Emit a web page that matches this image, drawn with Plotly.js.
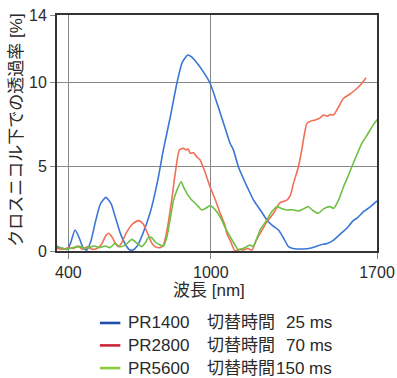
<!DOCTYPE html>
<html>
<head>
<meta charset="utf-8">
<script src="https://cdn.plot.ly/plotly-3.0.1.min.js"></script>
<style>html,body{margin:0;padding:0;background:#fff;}</style>
</head>
<body>
<div id="chart" style="width:397px;height:378px;"></div>
<script>
// PR1400 (blue)
const blueX = [352,380,395,410,428,445,462,477,495,515,535,558,580,600,620,640,655,670,690,710,744,775,800,830,857,880,903,920,945,970,997,1030,1060,1081,1095,1116,1150,1180,1210,1236,1260,1285,1305,1327,1345,1362,1390,1418,1440,1461,1490,1517,1545,1573,1600,1620,1643,1670,1700];
const blueY = [0.22,0.15,0.1,0.5,1.25,0.8,0.2,0.05,0.6,1.8,2.8,3.18,2.8,1.9,1.0,0.4,0.1,0.05,0.3,0.9,2.25,4.1,6.0,8.0,9.95,11.2,11.63,11.5,11.1,10.6,9.95,8.6,7.3,6.39,6.0,5.0,3.9,3.02,2.4,1.84,1.5,1.25,0.8,0.26,0.15,0.12,0.12,0.16,0.25,0.36,0.45,0.65,1.0,1.35,1.8,2.0,2.33,2.6,2.97];
// PR2800 (red)
const redX = [352,380,400,420,440,460,480,500,520,540,555,569,585,600,611,625,645,670,695,715,735,750,765,786,800,815,835,850,868,885,895,905,913,927,940,955,975,997,1020,1039,1060,1067,1081,1102,1120,1137,1155,1173,1190,1208,1235,1264,1292,1320,1335,1348,1369,1383,1395,1405,1420,1440,1460,1475,1490,1505,1517,1540,1559,1585,1608,1630,1654];
const redY = [0.15,0.1,0.2,0.15,0.3,0.1,0.25,0.1,0.15,0.4,0.85,1.05,0.8,0.4,0.26,0.5,1.1,1.6,1.8,1.6,1.0,0.5,0.26,0.2,0.35,1.2,3.0,4.6,6.0,6.09,6.0,6.05,5.8,5.83,5.6,5.4,4.7,3.8,3.0,2.25,1.5,1.05,0.65,0.0,0.1,0.06,0.15,0.06,0.6,1.05,1.7,2.24,2.87,3.02,3.3,4.0,5.0,6.0,7.0,7.57,7.7,7.77,7.9,8.07,8.0,8.1,8.07,8.6,9.06,9.3,9.55,9.85,10.28];
// PR5600 (green)
const greenX = [352,375,395,420,449,470,485,510,530,555,575,597,615,640,667,690,709,725,737,750,765,786,800,815,830,843,860,875,885,899,915,934,950,962,980,997,1015,1039,1060,1081,1100,1116,1135,1152,1165,1178,1190,1208,1236,1255,1278,1300,1320,1345,1369,1390,1411,1430,1453,1475,1503,1517,1538,1559,1580,1594,1615,1636,1655,1671,1690,1709];
const greenY = [0.3,0.15,0.12,0.2,0.26,0.15,0.2,0.3,0.2,0.3,0.2,0.46,0.26,0.35,0.69,0.45,0.26,0.5,0.81,0.8,0.55,0.36,0.3,0.85,2.0,3.02,3.7,4.11,3.8,3.42,3.1,2.83,2.6,2.43,2.55,2.69,2.5,2.03,1.4,0.85,0.4,0.06,0.15,0.26,0.36,0.26,0.6,1.25,1.84,2.3,2.63,2.5,2.43,2.45,2.37,2.5,2.63,2.4,2.24,2.5,2.63,2.53,3.02,3.81,4.5,5.0,5.7,6.39,6.8,7.18,7.6,7.93];

const seriesNames = ['PR1400','PR2800','PR5600'];
const switchLabel = '切替時間';
const switchTimes = ['25 ms','70 ms','150 ms'];
const xTicks = [400,1000,1700];
const yTicks = [0,5,10,14];
const xTitle = '波長 [nm]';
const yTitle = 'クロスニコル下での透過率 [%]';

const lineColors = ['#3a76d6','#f26e55','#6dc043'];
const legendColors = ['#1e50a8','#c8283a','#8ccc3c'];
const FONT = 'Liberation Sans, Arial, Noto Sans CJK JP, sans-serif';
const TXT = '#2a2a2a';

const xs = [blueX, redX, greenX];
const ys = [blueY, redY, greenY];
const traces = xs.map((x,i)=>({
  x: x, y: ys[i], type:'scatter', mode:'lines', name: seriesNames[i],
  line:{color: lineColors[i], width:1.6, shape:'spline', smoothing:0.6},
  showlegend:false, hoverinfo:'skip'
}));

const rowY = [-0.305,-0.400,-0.496];
const shapes = [];
const annotations = [];
rowY.forEach((yy,i)=>{
  shapes.push({type:'line', xref:'paper', yref:'paper', x0:0.134, x1:0.198, y0:yy, y1:yy,
    line:{color:legendColors[i], width:2.6}});
  annotations.push({xref:'paper', yref:'paper', x:0.217, y:yy, xanchor:'left', yanchor:'middle',
    text:seriesNames[i], showarrow:false, font:{family:FONT, size:17, color:TXT}});
  annotations.push({xref:'paper', yref:'paper', x:0.4625, y:yy, xanchor:'left', yanchor:'middle',
    text:switchLabel, showarrow:false, font:{family:FONT, size:17, color:TXT}});
  annotations.push({xref:'paper', yref:'paper', x:0.865, y:yy, xanchor:'right', yanchor:'middle',
    text:switchTimes[i], showarrow:false, font:{family:FONT, size:17, color:TXT}});
});
// axis titles placed as in the reference
annotations.push({xref:'paper', yref:'paper', x:0.476, y:-0.168, xanchor:'center', yanchor:'middle',
  text:xTitle, showarrow:false, font:{family:FONT, size:17, color:TXT}});
annotations.push({xref:'paper', yref:'paper', x:-0.125, y:0.51, xanchor:'center', yanchor:'middle',
  textangle:-90, text:yTitle, showarrow:false, font:{family:FONT, size:17, color:TXT}});

const layout = {
  width:397, height:378,
  margin:{l:57, r:20, t:15, b:127},
  paper_bgcolor:'#fff', plot_bgcolor:'#fff',
  font:{family:FONT, color:TXT},
  xaxis:{
    range:[352,1700], tickvals:xTicks, ticktext:xTicks.map(String),
    showgrid:true, gridcolor:'#888', gridwidth:1, zeroline:false,
    showline:true, linecolor:'#333', linewidth:2, mirror:true,
    ticks:'outside', ticklen:6, tickcolor:'#888', tickwidth:1,
    tickfont:{family:FONT, size:16, color:TXT}
  },
  yaxis:{
    range:[0,14], tickvals:yTicks, ticktext:yTicks.map(String),
    showgrid:true, gridcolor:'#888', gridwidth:1, zeroline:false,
    showline:true, linecolor:'#333', linewidth:2, mirror:true,
    ticks:'outside', ticklen:5, tickcolor:'#888', tickwidth:1,
    tickfont:{family:FONT, size:16, color:TXT}
  },
  shapes:shapes, annotations:annotations, showlegend:false
};
Plotly.newPlot('chart', traces, layout, {displayModeBar:false, staticPlot:true});
</script>
</body>
</html>
